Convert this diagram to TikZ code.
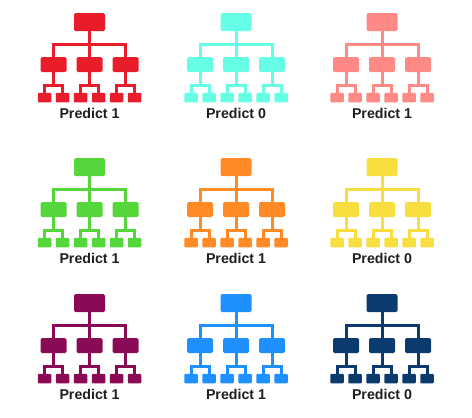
\documentclass[tikz,border=0pt]{standalone}
\usepackage{fontspec}
\setmainfont{Liberation Sans}
\tikzset{
  rootbox/.style={fill=#1,draw=none,rounded corners=1.5pt,minimum width=31pt,minimum height=18pt,inner sep=0pt},
  midbox/.style={fill=#1,draw=none,rounded corners=1.5pt,minimum width=26pt,minimum height=15pt,inner sep=0pt},
  leafbox/.style={fill=#1,draw=none,rounded corners=1pt,minimum width=13.5pt,minimum height=9.5pt,inner sep=0pt},
  link/.style={draw=#1,line width=3pt,line join=miter},
  caption/.style={font=\fontsize{14.2pt}{16pt}\selectfont\bfseries,text=black!88,inner sep=0pt}
}
\definecolor{cA}{HTML}{E91C2B}
\definecolor{cB}{HTML}{66FFE6}
\definecolor{cC}{HTML}{FF8A85}
\definecolor{cD}{HTML}{55D63A}
\definecolor{cE}{HTML}{FF8A26}
\definecolor{cF}{HTML}{F8DE3F}
\definecolor{cG}{HTML}{8A0A55}
\definecolor{cH}{HTML}{1E90FF}
\definecolor{cI}{HTML}{0B3A6E}
% #1 id, #2 centre x, #3 root centre y (px from top), #4 colour, #5 label
\newcommand{\dectree}[5]{%
  \begin{scope}[shift={(#2,-#3)}]
    \node[rootbox=#4] (#1r) at (0,0) {};
    \coordinate (#1bar) at (0,-22.5);
    \foreach \m/\mx in {a/-36,b/0,c/36}{
      \node[midbox=#4] (#1\m) at (\mx,-42.5) {};
      \node[leafbox=#4] (#1\m l) at (\mx-9,-75.5) {};
      \node[leafbox=#4] (#1\m r) at (\mx+9,-75.5) {};
      \coordinate (#1\m bar) at (\mx,-63.5);
      \draw[link=#4] (#1\m.south) -- (#1\m bar);
      \draw[link=#4] (#1\m l.north) |- (#1\m bar) -| (#1\m r.north);
    }
    \draw[link=#4] (#1r.south) -- (#1b.north);
    \draw[link=#4] (#1a.north) |- (#1bar) -| (#1c.north);
    \node[caption] (#1t) at (0,-91.5) {#5};
  \end{scope}%
}
\begin{document}
\begin{tikzpicture}[x=1pt,y=1pt]
  \path[use as bounding box,fill=white] (0,0) rectangle (472,-418);
  \dectree{A}{89.5}{22}{cA}{Predict 1}
  \dectree{B}{236}{22}{cB}{Predict 0}
  \dectree{C}{382}{22}{cC}{Predict 1}
  \dectree{D}{89.5}{167}{cD}{Predict 1}
  \dectree{E}{236}{167}{cE}{Predict 1}
  \dectree{F}{382}{167}{cF}{Predict 0}
  \dectree{G}{89.5}{303}{cG}{Predict 1}
  \dectree{H}{236}{303}{cH}{Predict 1}
  \dectree{I}{382}{303}{cI}{Predict 0}
\end{tikzpicture}
\end{document}
